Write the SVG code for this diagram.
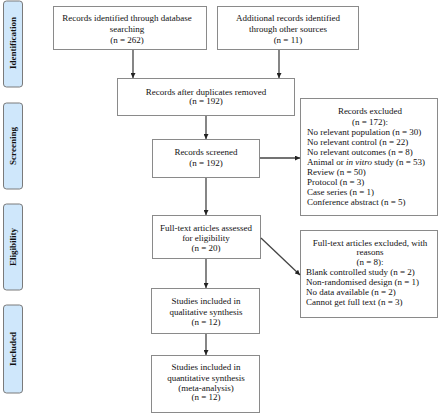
<svg xmlns="http://www.w3.org/2000/svg" width="440" height="414" viewBox="0 0 440 414">
<defs>
<marker id="ah" viewBox="0 0 10 10" refX="10" refY="5" markerWidth="5" markerHeight="5" orient="auto" markerUnits="userSpaceOnUse">
<path d="M0,0 L10,5 L0,10 z" fill="#222"/>
</marker>
</defs>
<style>
.box{fill:#fff;stroke:#8a8a8a;stroke-width:1}
.lab{fill:#cfe7fb;stroke:#7a7a7a;stroke-width:1}
text{font-family:"Liberation Serif","Times New Roman",serif;font-size:9px;fill:#111}
.side{font-weight:bold;font-size:9px}
.con{stroke:#444;stroke-width:1.3;fill:none;marker-end:url(#ah)}
</style>
<rect width="440" height="414" fill="#fff"/>
<g id="lab-identification"><rect class="lab" x="3.5" y="1" width="19" height="86" rx="3"/><text class="side" text-anchor="middle" transform="translate(16,43) rotate(-90)">Identification</text></g>
<g id="lab-screening"><rect class="lab" x="3.5" y="103" width="19" height="86" rx="3"/><text class="side" text-anchor="middle" transform="translate(16,146) rotate(-90)">Screening</text></g>
<g id="lab-eligibility"><rect class="lab" x="3.5" y="204" width="19" height="86" rx="3"/><text class="side" text-anchor="middle" transform="translate(16,247) rotate(-90)">Eligibility</text></g>
<g id="lab-included"><rect class="lab" x="3.5" y="305" width="19" height="88" rx="3"/><text class="side" text-anchor="middle" transform="translate(16,349) rotate(-90)">Included</text></g>
<g id="n-db" text-anchor="middle"><rect class="box" x="53.5" y="6.5" width="153" height="43"/><text x="127" y="21">Records identified through database</text><text x="127" y="32">searching</text><text x="127" y="43">(n = 262)</text></g>
<g id="n-other" text-anchor="middle"><rect class="box" x="217.5" y="6.5" width="141" height="43"/><text x="288" y="21">Additional records identified</text><text x="288" y="32">through other sources</text><text x="288" y="43">(n = 11)</text></g>
<g id="n-dup" text-anchor="middle"><rect class="box" x="117.5" y="78.5" width="177" height="37"/><text x="206" y="95">Records after duplicates removed</text><text x="206" y="104">(n = 192)</text></g>
<g id="n-screened" text-anchor="middle"><rect class="box" x="152.5" y="139.5" width="107" height="38"/><text x="206" y="155">Records screened</text><text x="206" y="166">(n = 192)</text></g>
<g id="n-excl1"><rect class="box" x="300.5" y="98.5" width="137" height="117"/>
<text text-anchor="middle" x="370" y="114">Records excluded</text><text text-anchor="middle" x="370" y="125">(n = 172):</text>
<text x="307" y="135">No relevant population (n = 30)</text>
<text x="307" y="145">No relevant control (n = 22)</text>
<text x="307" y="155">No relevant outcomes (n = 8)</text>
<text x="307" y="165">Animal or <tspan font-style="italic">in vitro</tspan> study (n = 53)</text>
<text x="307" y="175">Review (n = 50)</text>
<text x="307" y="185">Protocol (n = 3)</text>
<text x="307" y="195">Case series (n = 1)</text>
<text x="307" y="205">Conference abstract (n = 5)</text></g>
<g id="n-fulltext" text-anchor="middle"><rect class="box" x="152.5" y="215.5" width="108" height="43"/><text x="206" y="231">Full-text articles assessed</text><text x="206" y="241">for eligibility</text><text x="206" y="251">(n = 20)</text></g>
<g id="n-excl2"><rect class="box" x="300.5" y="230.5" width="137" height="87"/>
<text text-anchor="middle" x="370" y="246">Full-text articles excluded, with</text>
<text text-anchor="middle" x="370" y="255">reasons</text>
<text text-anchor="middle" x="370" y="265">(n = 8):</text>
<text x="306" y="275">Blank controlled study (n = 2)</text>
<text x="306" y="285">Non-randomised design (n = 1)</text>
<text x="306" y="295">No data available (n = 2)</text>
<text x="306" y="305">Cannot get full text (n = 3)</text></g>
<g id="n-qual" text-anchor="middle"><rect class="box" x="151.5" y="288.5" width="108" height="45"/><text x="206" y="304">Studies included in</text><text x="206" y="315">qualitative synthesis</text><text x="206" y="325">(n = 12)</text></g>
<g id="n-quant" text-anchor="middle"><rect class="box" x="151.5" y="355.5" width="108" height="57"/><text x="206" y="370">Studies included in</text><text x="206" y="381">quantitative synthesis</text><text x="206" y="391">(meta-analysis)</text><text x="206" y="400">(n = 12)</text></g>
<g id="connectors">
<line class="con" x1="133" y1="50" x2="133" y2="78"/>
<line class="con" x1="279" y1="50" x2="279" y2="78"/>
<line class="con" x1="206" y1="116" x2="206" y2="139"/>
<line class="con" x1="260" y1="158" x2="300" y2="158"/>
<line class="con" x1="206" y1="178" x2="206" y2="215"/>
<line class="con" x1="261" y1="238" x2="300" y2="275"/>
<line class="con" x1="206" y1="259" x2="206" y2="288"/>
<line class="con" x1="206" y1="334" x2="206" y2="355"/>
</g>
</svg>
